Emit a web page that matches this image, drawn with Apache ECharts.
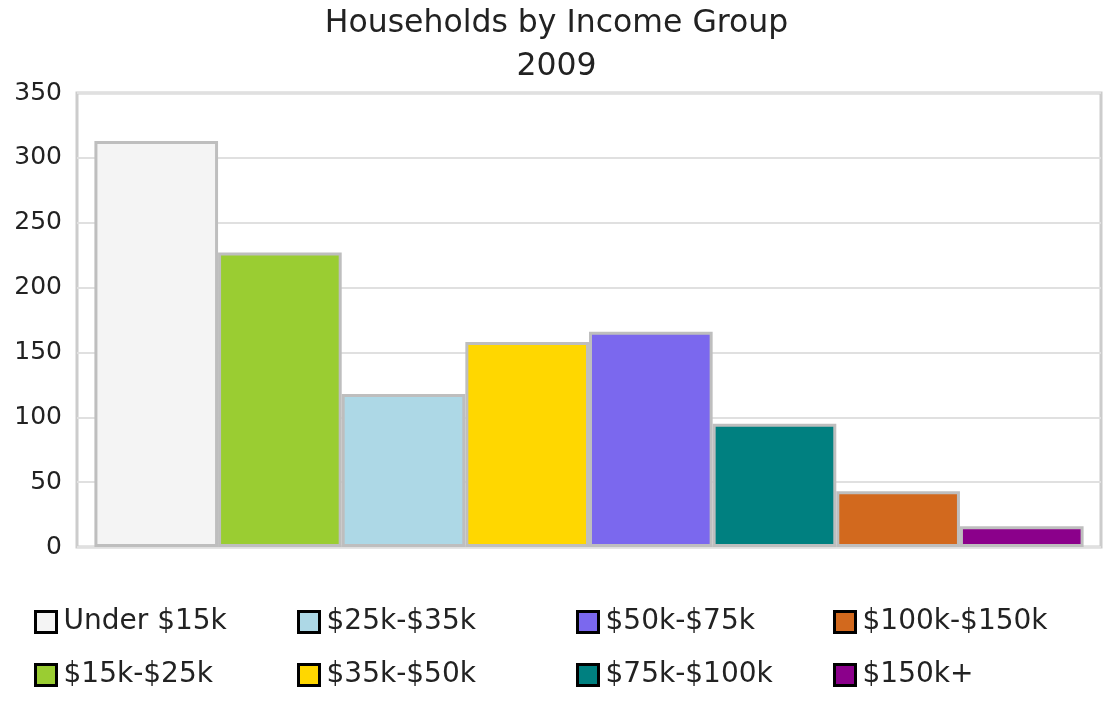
<!DOCTYPE html>
<html>
<head>
<meta charset="utf-8">
<script src="https://cdn.jsdelivr.net/npm/echarts@6/dist/echarts.min.js"></script>
<style>
html,body{margin:0;padding:0;background:#fff;}
#chart{width:1113px;height:719px;}
</style>
</head>
<body>
<div id="chart"></div>
<script>
const titleText = 'Households by Income Group\n2009';
const groups = ['Under $15k', '$15k-$25k', '$25k-$35k', '$35k-$50k', '$50k-$75k', '$75k-$100k', '$100k-$150k', '$150k+'];
const values = [313, 227, 118, 158, 166, 95, 43, 16];
const colors = ['#f4f4f4', '#9acd32', '#add8e6', '#ffd700', '#7b68ee', '#008080', '#d2691e', '#8b008b'];
const yTicks = [0, 50, 100, 150, 200, 250, 300, 350];
const FONT = 'DejaVu Sans';

const chart = echarts.init(document.getElementById('chart'), null, {renderer: 'canvas'});

const series = groups.map((g, i) => ({
  name: g,
  type: 'bar',
  data: [values[i]],
  barGap: '0%',
  barCategoryGap: '3.4%',
  itemStyle: {color: colors[i], borderColor: '#bebebe', borderWidth: 3},
  emphasis: {disabled: true}
}));

const legendCols = [[0, 1], [2, 3], [4, 5], [6, 7]];
const legendLeft = [34, 297, 576, 833];
const legends = legendCols.map((idx, c) => ({
  orient: 'vertical',
  left: legendLeft[c],
  top: 608,
  padding: 0,
  itemWidth: 21,
  itemHeight: 21,
  itemGap: 25,
  icon: 'rect',
  data: idx.map(i => groups[i]),
  itemStyle: {borderColor: '#000', borderWidth: 3},
  textStyle: {fontFamily: FONT, fontSize: 28, lineHeight: 24, color: '#222', padding: [0, 0, 0, 2]},
  selectedMode: false
}));

chart.setOption({
  animation: false,
  backgroundColor: '#fff',
  title: {
    text: titleText,
    left: 'center',
    top: -3,
    textStyle: {fontFamily: FONT, fontSize: 31.5, fontWeight: 'normal', color: '#222', lineHeight: 43}
  },
  legend: legends,
  grid: {left: 77, right: 12, top: 93, bottom: 172, show: true, borderColor: '#cccccc', borderWidth: 3, containLabel: false},
  xAxis: {
    type: 'category',
    data: ['2009'],
    axisLine: {show: false},
    axisTick: {show: false},
    axisLabel: {show: false}
  },
  yAxis: {
    type: 'value',
    min: yTicks[0],
    max: yTicks[yTicks.length - 1],
    interval: 50,
    axisLine: {show: false},
    axisTick: {show: false},
    axisLabel: {fontFamily: FONT, fontSize: 25, color: '#222', margin: 15},
    splitLine: {lineStyle: {color: '#e0e0e0', width: 2}}
  },
  series: series
});
</script>
</body>
</html>
